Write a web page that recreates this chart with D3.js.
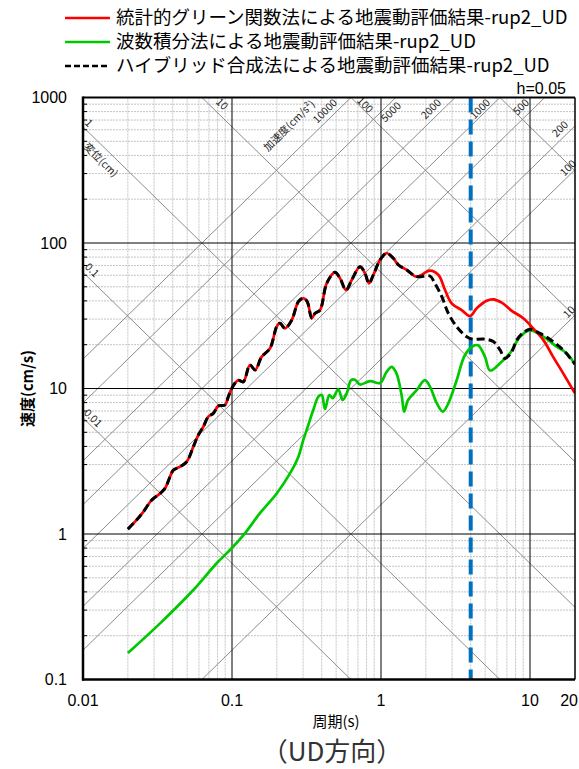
<!DOCTYPE html>
<html>
<head>
<meta charset="utf-8">
<script src="https://cdn.jsdelivr.net/npm/d3@7"></script>
<style>
    html, body { margin: 0; padding: 0; background: #ffffff; }
    svg { display: block; }
</style>
</head>
<body>
<div id="chart"></div>
<script>
// ---- data (period in s, pseudo velocity in cm/s) ----
const sgfPeriod = [0.020, 0.0229, 0.0254, 0.0289, 0.0329, 0.0355, 0.0384, 0.0404, 0.0448, 0.0497,
    0.055, 0.0594, 0.0642, 0.0693, 0.0749, 0.0809, 0.0898, 0.0945, 0.0995, 0.110,
    0.119, 0.132, 0.143, 0.158, 0.180, 0.1995, 0.210, 0.227, 0.252, 0.279,
    0.301, 0.320, 0.343, 0.361, 0.390, 0.432, 0.491, 0.531, 0.582, 0.636,
    0.723, 0.781, 0.830, 0.888, 0.985, 1.09, 1.21, 1.31, 1.49, 1.74,
    2.13, 2.43, 2.69, 2.98, 3.48, 3.96, 4.39, 5.12, 5.67, 6.46,
    7.54, 9.02, 10.5, 12.3, 14.3, 16.7, 20];
const sgfVelocity = [1.08, 1.25, 1.42, 1.71, 1.90, 2.06, 2.48, 2.75, 2.90, 3.14,
    3.98, 4.79, 5.46, 6.40, 6.75, 7.58, 7.71, 8.79, 10.0, 11.4,
    11.1, 14.5, 13.4, 16.5, 18.9, 26.6, 28.1, 25.9, 29.6, 39.5,
    41.7, 39.5, 30.4, 32.9, 34.6, 52.8, 62.9, 57.2, 47.5, 55.7,
    68.7, 61.9, 52.8, 60.3, 76.4, 85.0, 78.5, 70.6, 65.2, 58.7,
    64.5, 60.3, 47.5, 38.5, 34.6, 31.5, 35.6, 40.1, 41.0, 38.9,
    34.2, 30.4, 25.9, 21.5, 16.5, 12.7, 9.3];

const wnPeriod = [0.02, 0.0329, 0.055, 0.0789, 0.0995, 0.122, 0.154, 0.1995, 0.245, 0.279,
    0.301, 0.317, 0.351, 0.380, 0.400, 0.421, 0.450, 0.474, 0.517, 0.553,
    0.589, 0.629, 0.669, 0.723, 0.844, 0.985, 1.09, 1.18, 1.27, 1.38,
    1.43, 1.52, 1.74, 1.97, 2.13, 2.37, 2.60, 2.83, 3.22, 3.66,
    4.16, 4.48, 4.99, 5.39, 6.29, 7.34, 8.57, 10, 12.3, 15.1,
    17.6, 20];
const wnVelocity = [0.152, 0.243, 0.412, 0.629, 0.798, 1.01, 1.39, 1.90, 2.61, 3.40,
    4.43, 5.19, 7.11, 8.79, 9.02, 7.23, 9.02, 8.57, 9.88, 8.34,
    9.27, 11.4, 11.5, 10.65, 11.25, 10.9, 13.0, 14.1, 12.7, 8.79,
    6.93, 8.34, 9.77, 11.4, 10.3, 7.91, 6.93, 7.91, 11.4, 17.0,
    19.6, 19.8, 16.5, 13.3, 14.9, 17.5, 22.7, 25.1, 22.7, 19.4,
    17.5, 14.7];

const hybPeriod = [0.020, 0.0229, 0.0254, 0.0289, 0.0329, 0.0355, 0.0384, 0.0404, 0.0448, 0.0497,
    0.055, 0.0594, 0.0642, 0.0693, 0.0749, 0.0809, 0.0898, 0.0945, 0.0995, 0.110,
    0.119, 0.132, 0.143, 0.158, 0.180, 0.1995, 0.210, 0.227, 0.252, 0.279,
    0.301, 0.320, 0.343, 0.361, 0.390, 0.432, 0.491, 0.531, 0.582, 0.636,
    0.723, 0.781, 0.830, 0.888, 0.985, 1.09, 1.21, 1.31, 1.49, 1.74,
    2.13, 2.30, 2.56, 2.83, 3.22, 3.76, 4.16, 4.86, 5.67, 6.29,
    6.79, 7.54, 8.15, 9.02, 10, 11.7, 14.3, 16.7, 19.05, 20];
const hybVelocity = [1.08, 1.25, 1.42, 1.71, 1.90, 2.06, 2.48, 2.75, 2.90, 3.14,
    3.98, 4.79, 5.46, 6.40, 6.75, 7.58, 7.71, 8.79, 10.0, 11.4,
    11.1, 14.5, 13.4, 16.5, 18.9, 26.6, 28.1, 25.9, 29.6, 39.5,
    41.7, 39.5, 30.4, 32.9, 34.6, 52.8, 62.9, 57.2, 47.5, 55.7,
    68.7, 61.9, 52.8, 60.3, 76.4, 85.0, 78.5, 70.6, 65.2, 58.7,
    59.3, 52.8, 42.8, 32.9, 26.6, 22.7, 21.8, 21.9, 21.0, 18.4,
    16.1, 17.9, 21.5, 24.2, 25.5, 23.9, 21.0, 18.4, 15.7, 14.7];

const legendLabels = [
    '統計的グリーン関数法による地震動評価結果-rup2_UD',
    '波数積分法による地震動評価結果-rup2_UD',
    'ハイブリッド合成法による地震動評価結果-rup2_UD'
];

// tripartite grid: displacement (cm) and acceleration (cm/s2) lines
const dispLines = [0.01, 0.1, 1, 10, 100, 1000];
const accLines = [10, 100, 200, 500, 1000, 2000, 5000, 10000];

// diagonal labels: [text, period, velocity]
const dispLabels = [['1', 0.01097, 668], ['変位(cm)', 0.0132, 372], ['0.1', 0.0115, 65.2],
    ['0.01', 0.01167, 6.27], ['10', 0.0857, 902], ['100', 0.782, 889]];
const accLabels = [['加速度(cm/s²)', 0.2417, 640], ['10000', 0.421, 807], ['5000', 1.167, 795],
    ['2000', 2.166, 834], ['1000', 4.62, 834], ['500', 8.70, 861], ['200', 15.9, 608],
    ['100', 18.0, 328], ['10', 18.3, 33.6]];

const xTicks = [0.01, 0.1, 1, 10, 20];
const xTickLabels = ['0.01', '0.1', '1', '10', '20'];
const yTicks = [0.1, 1, 10, 100, 1000];
const yTickLabels = ['0.1', '1', '10', '100', '1000'];

const targetPeriod = 4;

const WIDTH = 579;
const HEIGHT = 769;
const PLOT = { left: 83, right: 575, top: 97.5, bottom: 679.5 };
const NUM_FONT = '"Liberation Sans", Arial, sans-serif';
const JP_FONT = '"Noto Sans CJK JP", "Noto Sans", sans-serif';

const x = d3.scaleLog().domain([0.01, 20]).range([PLOT.left, PLOT.left + 149 * Math.log10(2000)]);
const y = d3.scaleLog().domain([0.1, 1000]).range([PLOT.bottom, PLOT.top]);

const svg = d3.select('#chart').append('svg')
    .attr('width', WIDTH)
    .attr('height', HEIGHT)
    .attr('viewBox', `0 0 ${WIDTH} ${HEIGHT}`);

svg.append('rect').attr('width', WIDTH).attr('height', HEIGHT).attr('fill', '#ffffff');

svg.append('defs').append('clipPath').attr('id', 'plot-clip')
    .append('rect')
    .attr('x', PLOT.left).attr('y', PLOT.top)
    .attr('width', PLOT.right - PLOT.left).attr('height', PLOT.bottom - PLOT.top);

const grid = svg.append('g').attr('clip-path', 'url(#plot-clip)');

// minor grid
const xMinor = [];
for (let e = -2; e <= 1; e++) for (let m = 2; m <= 9; m++) {
    const v = m * Math.pow(10, e);
    if (v < 20) xMinor.push(v);
}
const yMinor = [];
for (let e = -1; e <= 2; e++) for (let m = 2; m <= 9; m++) yMinor.push(m * Math.pow(10, e));

grid.selectAll('line.vminor').data(xMinor).join('line')
    .attr('class', 'vminor')
    .attr('x1', (d) => x(d)).attr('x2', (d) => x(d))
    .attr('y1', PLOT.top).attr('y2', PLOT.bottom)
    .attr('stroke', '#c4c4c4').attr('stroke-width', 1).attr('stroke-dasharray', '2,1');
grid.selectAll('line.hminor').data(yMinor).join('line')
    .attr('class', 'hminor')
    .attr('x1', PLOT.left).attr('x2', PLOT.right)
    .attr('y1', (d) => y(d)).attr('y2', (d) => y(d))
    .attr('stroke', '#c4c4c4').attr('stroke-width', 1).attr('stroke-dasharray', '2,1');

// diagonal lines
const TWO_PI = 2 * Math.PI;
const tEnds = [0.001, 100];
grid.selectAll('line.disp').data(dispLines).join('line')
    .attr('class', 'disp')
    .attr('x1', x(tEnds[0])).attr('y1', (d) => y(TWO_PI * d / tEnds[0]))
    .attr('x2', x(tEnds[1])).attr('y2', (d) => y(TWO_PI * d / tEnds[1]))
    .attr('stroke', '#8c8c8c').attr('stroke-width', 1);
grid.selectAll('line.acc').data(accLines).join('line')
    .attr('class', 'acc')
    .attr('x1', x(tEnds[0])).attr('y1', (d) => y(d * tEnds[0] / TWO_PI))
    .attr('x2', x(tEnds[1])).attr('y2', (d) => y(d * tEnds[1] / TWO_PI))
    .attr('stroke', '#8c8c8c').attr('stroke-width', 1);

// major grid
grid.selectAll('line.vmajor').data([0.1, 1, 10]).join('line')
    .attr('class', 'vmajor')
    .attr('x1', (d) => x(d)).attr('x2', (d) => x(d))
    .attr('y1', PLOT.top).attr('y2', PLOT.bottom)
    .attr('stroke', '#000').attr('stroke-width', 1);
grid.selectAll('line.hmajor').data([1, 10, 100]).join('line')
    .attr('class', 'hmajor')
    .attr('x1', PLOT.left).attr('x2', PLOT.right)
    .attr('y1', (d) => y(d)).attr('y2', (d) => y(d))
    .attr('stroke', '#000').attr('stroke-width', 1);

// diagonal labels
svg.selectAll('text.disp-label').data(dispLabels).join('text')
    .attr('class', 'disp-label')
    .attr('transform', (d) => `translate(${x(d[1])},${y(d[2])}) rotate(45)`)
    .attr('text-anchor', 'middle').attr('dy', '0.35em')
    .attr('font-family', JP_FONT).attr('font-size', 10.5).attr('fill', '#222')
    .text((d) => d[0]);
svg.selectAll('text.acc-label').data(accLabels).join('text')
    .attr('class', 'acc-label')
    .attr('transform', (d) => `translate(${x(d[1])},${y(d[2])}) rotate(-45)`)
    .attr('text-anchor', 'middle').attr('dy', '0.35em')
    .attr('font-family', JP_FONT).attr('font-size', 10.5).attr('fill', '#222')
    .text((d) => d[0]);

// left axis inner ticks
svg.selectAll('line.ytick-minor').data(yMinor).join('line')
    .attr('class', 'ytick-minor')
    .attr('x1', PLOT.left).attr('x2', PLOT.left + 4)
    .attr('y1', (d) => y(d)).attr('y2', (d) => y(d))
    .attr('stroke', '#000').attr('stroke-width', 1);

// target period marker
svg.append('line')
    .attr('x1', x(targetPeriod)).attr('x2', x(targetPeriod))
    .attr('y1', PLOT.top).attr('y2', PLOT.bottom)
    .attr('stroke', '#0070c0').attr('stroke-width', 4).attr('stroke-dasharray', '15,7');

// spectra
const line = d3.line()
    .x((d) => x(d[0]))
    .y((d) => y(d[1]))
    .curve(d3.curveCatmullRom.alpha(0.5));
const curves = svg.append('g').attr('clip-path', 'url(#plot-clip)');
curves.append('path')
    .datum(wnPeriod.map((t, i) => [t, wnVelocity[i]]))
    .attr('d', line).attr('fill', 'none')
    .attr('stroke', '#00c800').attr('stroke-width', 2.7);
curves.append('path')
    .datum(sgfPeriod.map((t, i) => [t, sgfVelocity[i]]))
    .attr('d', line).attr('fill', 'none')
    .attr('stroke', '#ff0000').attr('stroke-width', 2.7);
curves.append('path')
    .datum(hybPeriod.map((t, i) => [t, hybVelocity[i]]))
    .attr('d', line).attr('fill', 'none')
    .attr('stroke', '#000').attr('stroke-width', 3).attr('stroke-dasharray', '8,4');

// frame
svg.append('line').attr('x1', PLOT.left).attr('x2', PLOT.right).attr('y1', PLOT.top).attr('y2', PLOT.top)
    .attr('stroke', '#000').attr('stroke-width', 2);
svg.append('line').attr('x1', PLOT.right).attr('x2', PLOT.right).attr('y1', PLOT.top).attr('y2', PLOT.bottom)
    .attr('stroke', '#000').attr('stroke-width', 1.5);
svg.append('line').attr('x1', PLOT.left).attr('x2', PLOT.left).attr('y1', PLOT.top - 1).attr('y2', PLOT.bottom + 1)
    .attr('stroke', '#000').attr('stroke-width', 2.5);
svg.append('line').attr('x1', PLOT.left - 1).attr('x2', PLOT.right).attr('y1', PLOT.bottom).attr('y2', PLOT.bottom)
    .attr('stroke', '#000').attr('stroke-width', 2.5);

// tick labels (the last one sits at the right edge, so anchor it inside the page)
svg.selectAll('text.xtick').data(xTicks).join('text')
    .attr('class', 'xtick')
    .attr('x', (d, i) => (i === xTicks.length - 1 ? WIDTH - 1 : x(d)))
    .attr('y', PLOT.bottom + 26)
    .attr('text-anchor', (d, i) => (i === xTicks.length - 1 ? 'end' : 'middle'))
    .attr('font-family', NUM_FONT).attr('font-size', 16).attr('fill', '#000')
    .text((d, i) => xTickLabels[i]);
svg.selectAll('text.ytick').data(yTicks).join('text')
    .attr('class', 'ytick')
    .attr('x', PLOT.left - 16).attr('y', (d) => y(d))
    .attr('dy', '0.36em')
    .attr('text-anchor', 'end')
    .attr('font-family', NUM_FONT).attr('font-size', 16).attr('fill', '#000')
    .text((d, i) => yTickLabels[i]);

// axis titles
svg.append('text')
    .attr('transform', `translate(33,${y(10)}) rotate(-90)`)
    .attr('text-anchor', 'middle')
    .attr('font-family', JP_FONT).attr('font-size', 15).attr('font-weight', 700).attr('fill', '#000')
    .text('速度(cm/s)');
svg.append('text')
    .attr('x', 336).attr('y', 727)
    .attr('text-anchor', 'middle')
    .attr('font-family', JP_FONT).attr('font-size', 15).attr('fill', '#000')
    .text('周期(s)');
svg.append('text')
    .attr('x', 332).attr('y', 761)
    .attr('text-anchor', 'middle')
    .attr('font-family', JP_FONT).attr('font-size', 26).attr('fill', '#333')
    .text('（UD方向）');

svg.append('text')
    .attr('x', 566).attr('y', 94)
    .attr('text-anchor', 'end')
    .attr('font-family', NUM_FONT).attr('font-size', 16).attr('fill', '#000')
    .text('h=0.05');

// legend
const legendColors = ['#ff0000', '#00c800', '#000'];
const legendDash = [null, null, '6,3'];
const legend = svg.append('g');
legendLabels.forEach((label, i) => {
    const ly = 18 + i * 24;
    legend.append('line')
        .attr('x1', 65).attr('x2', 110).attr('y1', ly).attr('y2', ly)
        .attr('stroke', legendColors[i]).attr('stroke-width', 2.5)
        .attr('stroke-dasharray', legendDash[i]);
    legend.append('text')
        .attr('x', 116).attr('y', ly).attr('dy', '0.35em')
        .attr('font-family', JP_FONT).attr('font-size', 18.5).attr('fill', '#000')
        .text(label);
});
</script>
</body>
</html>
